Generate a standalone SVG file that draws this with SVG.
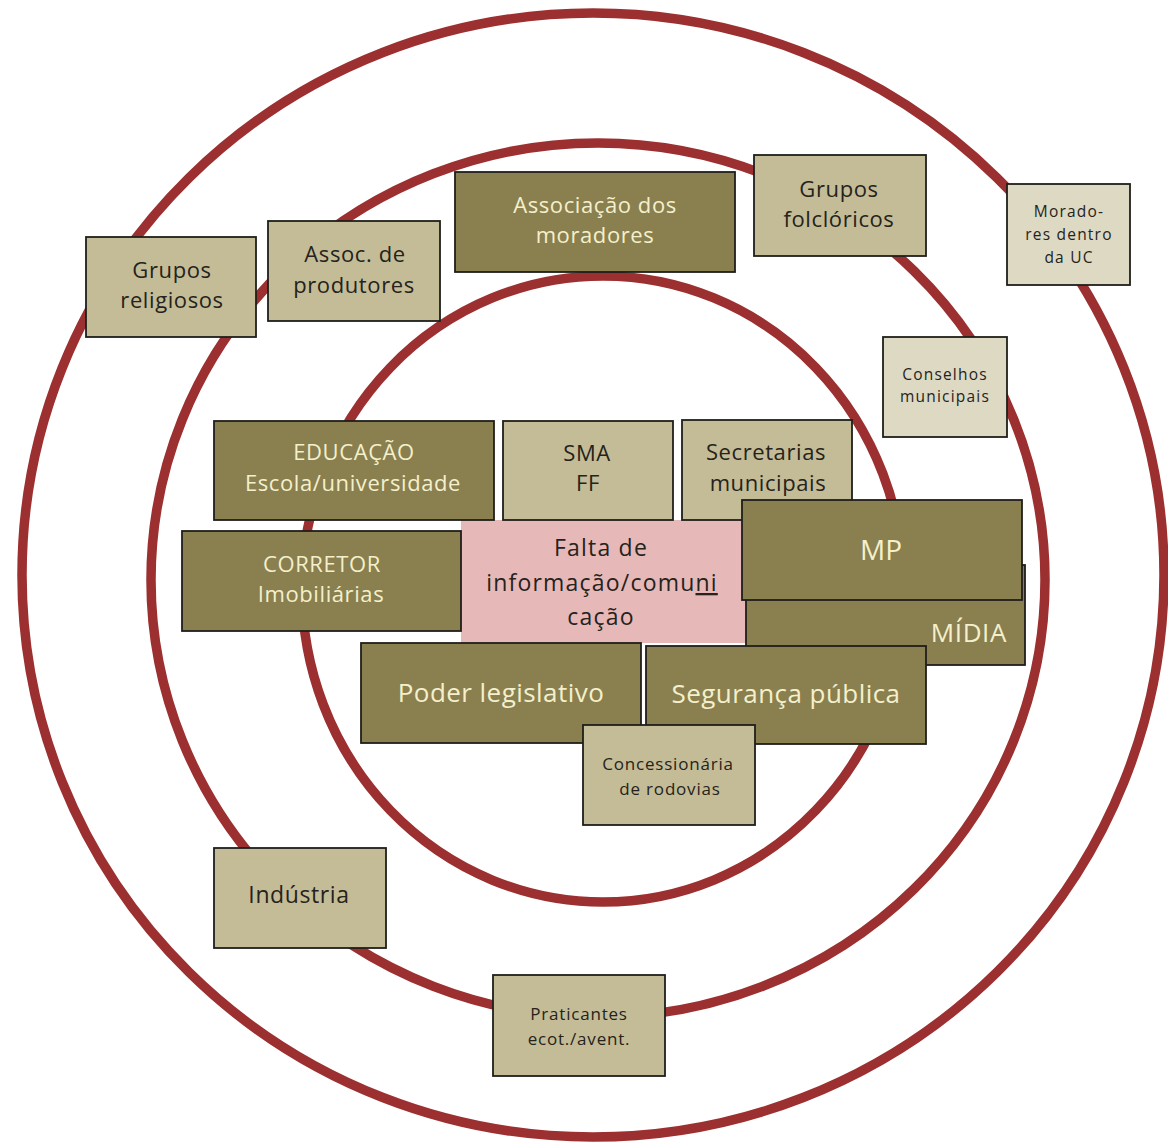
<svg xmlns="http://www.w3.org/2000/svg" width="1168" height="1145" viewBox="0 0 1168 1145">
  <style>
    .ring { fill: none; stroke: #9c2f2f; stroke-width: 9.5; }
    .box { stroke: #1e1e1a; stroke-width: 1.8; }
    .olive { fill: #8a7f4f; }
    .tan { fill: #c4bc96; }
    .light { fill: #ddd9c3; }
    .pink { fill: #e6b9b8; }
    text { font-family: "Open Sans", "Liberation Sans", sans-serif; text-anchor: middle; }
    .dk { fill: #25231c; }
    .lt { fill: #f4f0cc; }
    .s21 { font-size: 22px; letter-spacing: 0.6px; }
    .s25 { font-size: 26px; letter-spacing: 0.45px; }
    .s15 { font-size: 15.5px; letter-spacing: 1.2px; }
    .s16 { font-size: 17px; letter-spacing: 0.8px; }
    .s22 { font-size: 23px; letter-spacing: 1.2px; }
  </style>

  <!-- concentric rings -->
  <g id="rings">
    <ellipse class="ring" cx="593" cy="575" rx="571" ry="562"/>
    <ellipse class="ring" cx="598" cy="580" rx="447" ry="437"/>
    <ellipse class="ring" cx="603" cy="589" rx="301" ry="313"/>
  </g>

  <!-- outer band -->
  <g id="grupos-religiosos">
    <rect class="box tan" x="86" y="237" width="170" height="100"/>
    <text class="dk s21" x="172" y="278">Grupos</text>
    <text class="dk s21" x="172" y="308">religiosos</text>
  </g>
  <g id="moradores-uc">
    <rect class="box light" x="1007" y="184" width="123" height="101"/>
    <text class="dk s15" x="1069" y="217">Morado-</text>
    <text class="dk s15" x="1069" y="240">res dentro</text>
    <text class="dk s15" x="1069" y="263">da UC</text>
  </g>
  <g id="industria">
    <rect class="box tan" x="214" y="848" width="172" height="100"/>
    <text class="dk" style="font-size:23px;letter-spacing:0.6px" x="299" y="903">Indústria</text>
  </g>

  <!-- middle band -->
  <g id="assoc-produtores">
    <rect class="box tan" x="268" y="221" width="172" height="100"/>
    <text class="dk s21" x="355" y="262">Assoc. de</text>
    <text class="dk s21" x="354" y="293">produtores</text>
  </g>
  <g id="associacao-moradores">
    <rect class="box olive" x="455" y="172" width="280" height="100"/>
    <text class="lt s21" x="595" y="213">Associação dos</text>
    <text class="lt s21" x="595" y="243">moradores</text>
  </g>
  <g id="grupos-folcloricos">
    <rect class="box tan" x="754" y="155" width="172" height="101"/>
    <text class="dk s21" x="839" y="197">Grupos</text>
    <text class="dk s21" x="839" y="227">folclóricos</text>
  </g>
  <g id="conselhos-municipais">
    <rect class="box light" x="883" y="337" width="124" height="100"/>
    <text class="dk s15" x="945" y="380">Conselhos</text>
    <text class="dk s15" x="945" y="402">municipais</text>
  </g>
  <g id="praticantes">
    <rect class="box tan" x="493" y="975" width="172" height="101"/>
    <text class="dk s16" x="579" y="1020">Praticantes</text>
    <text class="dk s16" x="579" y="1045">ecot./avent.</text>
  </g>

  <!-- inner cluster -->
  <g id="falta-informacao">
    <rect class="pink" x="461" y="520" width="286" height="123"/>
    <text class="dk s22" x="601" y="556">Falta de</text>
    <text class="dk s22" x="602" y="591">informação/comu<tspan text-decoration="underline">ni</tspan></text>
    <text class="dk s22" x="601" y="625">cação</text>
  </g>
  <g id="educacao">
    <rect class="box olive" x="214" y="421" width="280" height="99"/>
    <text class="lt s21" x="354" y="460">EDUCAÇÃO</text>
    <text class="lt s21" x="353" y="491">Escola/universidade</text>
  </g>
  <g id="sma-ff">
    <rect class="box tan" x="503" y="421" width="170" height="99"/>
    <text class="dk s21" x="587" y="461">SMA</text>
    <text class="dk s21" x="588" y="491">FF</text>
  </g>
  <g id="secretarias-municipais">
    <rect class="box tan" x="682" y="420" width="170" height="100"/>
    <text class="dk s21" x="766" y="460">Secretarias</text>
    <text class="dk s21" x="768" y="491">municipais</text>
  </g>
  <g id="corretor">
    <rect class="box olive" x="182" y="531" width="279" height="100"/>
    <text class="lt s21" x="322" y="572">CORRETOR</text>
    <text class="lt s21" x="321" y="602">Imobiliárias</text>
  </g>
  <g id="midia">
    <rect class="box olive" x="746" y="565" width="279" height="100"/>
    <text class="lt" style="font-size:26px;letter-spacing:0.6px;text-anchor:end" x="1007" y="642">MÍDIA</text>
  </g>
  <g id="mp">
    <rect class="box olive" x="742" y="500" width="280" height="100"/>
    <text class="lt" style="font-size:28px" x="881" y="560">MP</text>
  </g>
  <g id="poder-legislativo">
    <rect class="box olive" x="361" y="643" width="280" height="100"/>
    <text class="lt s25" x="501" y="702">Poder legislativo</text>
  </g>
  <g id="seguranca-publica">
    <rect class="box olive" x="646" y="646" width="280" height="98"/>
    <text class="lt s25" x="786" y="703">Segurança pública</text>
  </g>
  <g id="concessionaria">
    <rect class="box tan" x="583" y="725" width="172" height="100"/>
    <text class="dk s16" x="668" y="770">Concessionária</text>
    <text class="dk s16" x="670" y="795">de rodovias</text>
  </g>

  <!-- no connectors: the rings above carry the structure -->
  <g id="connectors"/>
</svg>
